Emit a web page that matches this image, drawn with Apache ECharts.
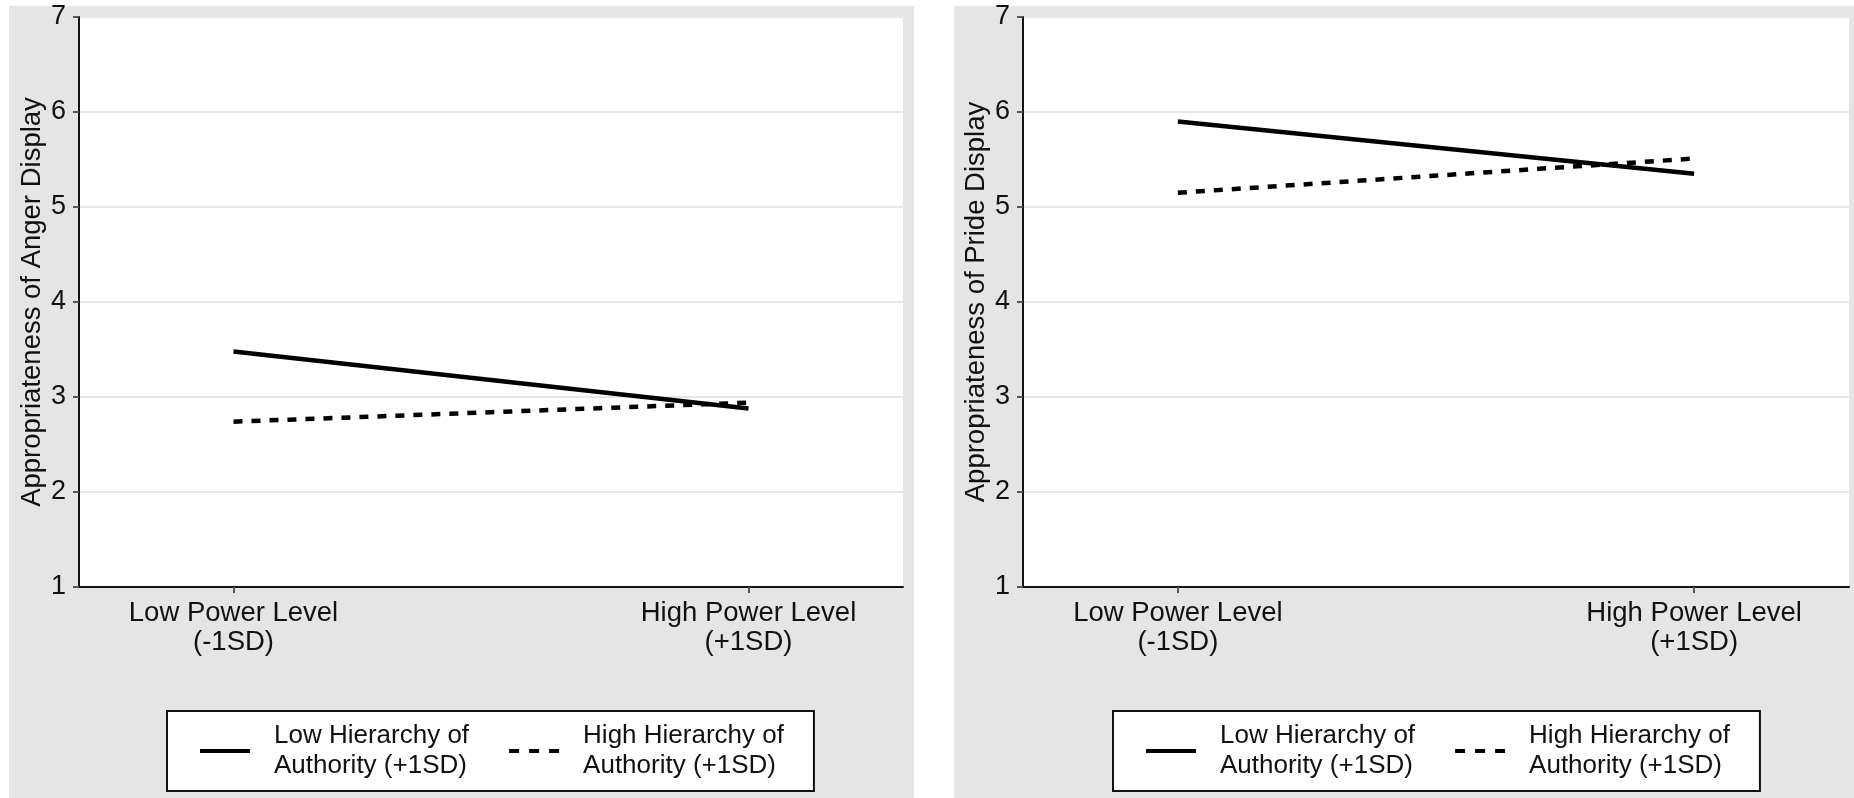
<!DOCTYPE html>
<html>
<head>
<meta charset="utf-8">
<script src="https://cdn.jsdelivr.net/npm/echarts@6/dist/echarts.min.js"></script>
<style>
  html, body { margin: 0; padding: 0; background: #fff; }
  #chart { width: 1854px; height: 798px; }
</style>
</head>
<body>
<div id="chart"></div>
<script>
const FONT = "'Liberation Sans', Arial, sans-serif"

// x positions of the two power levels (-1SD / +1SD)
const powerLevels = [-1, 1]
const powerLabels = ['Low Power Level\n(-1SD)', 'High Power Level\n(+1SD)']
const seriesNames = ['Low Hierarchy of\nAuthority (+1SD)', 'High Hierarchy of\nAuthority (+1SD)']

const angerLowHier = [3.48, 2.88]
const angerHighHier = [2.74, 2.94]
const prideLowHier = [5.90, 5.35]
const prideHighHier = [5.15, 5.51]

const yNames = ['Appropriateness of Anger Display', 'Appropriateness of Pride Display']

const grids = [
    { left: 79, top: 17, width: 824, height: 570 },
    { left: 1023, top: 17, width: 826, height: 570 },
]

// legend keys: a plain bar and three short dashes
const SOLID_ICON = 'rect'
const DASH_ICON = 'path://M0,0h10v4h-10z M20,0h10v4h-10z M40,0h10v4h-10z'

function pairs(values) {
    return powerLevels.map((x, i) => [x, values[i]])
}

function xAxisFor(gridIndex) {
    return {
        type: 'value', gridIndex, min: -1.6, max: 1.6,
        axisLine: { onZero: false, lineStyle: { color: '#111', width: 2 } },
        axisTick: { show: true, customValues: powerLevels, length: 6, lineStyle: { color: '#555', width: 2 } },
        axisLabel: {
            customValues: powerLevels,
            margin: 12,
            color: '#111', fontSize: 27.5, lineHeight: 29, fontFamily: FONT, align: 'center',
            formatter: (v) => powerLabels[powerLevels.indexOf(v)],
        },
        splitLine: { show: false },
    }
}

function yAxisFor(gridIndex) {
    return {
        type: 'value', gridIndex, min: 1, max: 7, interval: 1,
        name: yNames[gridIndex], nameLocation: 'middle', nameGap: 33,
        nameTextStyle: { color: '#111', fontSize: 27.5, fontFamily: FONT },
        axisLine: { show: true, onZero: false, lineStyle: { color: '#111', width: 2 } },
        axisTick: { show: true, length: 6, lineStyle: { color: '#555', width: 2 } },
        axisLabel: { margin: 13, color: '#111', fontSize: 27, fontFamily: FONT },
        splitLine: { show: true, lineStyle: { color: '#e6e6e6', width: 2 } },
    }
}

function lineSeries(name, values, gridIndex, dashed) {
    return {
        type: 'line', name,
        xAxisIndex: gridIndex, yAxisIndex: gridIndex,
        data: pairs(values),
        symbol: 'none', animation: false, silent: true,
        lineStyle: { color: '#000', width: 4.5, type: dashed ? [9, 9] : 'solid', cap: 'butt' },
        itemStyle: { color: '#000' },
    }
}

function legendFor(left) {
    return {
        left, top: 711,
        orient: 'horizontal',
        data: [
            { name: seriesNames[0], icon: SOLID_ICON },
            { name: seriesNames[1], icon: DASH_ICON },
        ],
        itemWidth: 50, itemHeight: 4, itemGap: 40,
        symbolKeepAspect: false,
        itemStyle: { color: '#000', borderWidth: 0 },
        padding: [10, 30, 10, 33],
        backgroundColor: '#fff',
        borderColor: '#111', borderWidth: 2, borderRadius: 0,
        selectedMode: false,
        textStyle: { color: '#111', fontSize: 26, lineHeight: 30, fontFamily: FONT, padding: [0, 0, 0, 19] },
    }
}

const chart = echarts.init(document.getElementById('chart'), null, { renderer: 'canvas' })

chart.setOption({
    backgroundColor: '#fff',
    animation: false,
    graphic: [
        { type: 'rect', z: -10, shape: { x: 9, y: 6, width: 905, height: 792 }, style: { fill: '#e5e5e5' } },
        { type: 'rect', z: -10, shape: { x: 954, y: 6, width: 900, height: 792 }, style: { fill: '#e5e5e5' } },
    ],
    grid: grids.map(g => ({ ...g, show: true, backgroundColor: '#fff', borderWidth: 0, containLabel: false })),
    xAxis: [xAxisFor(0), xAxisFor(1)],
    yAxis: [yAxisFor(0), yAxisFor(1)],
    legend: [legendFor(167), legendFor(1113)],
    series: [
        lineSeries(seriesNames[0], angerLowHier, 0, false),
        lineSeries(seriesNames[1], angerHighHier, 0, true),
        lineSeries(seriesNames[0], prideLowHier, 1, false),
        lineSeries(seriesNames[1], prideHighHier, 1, true),
    ],
})
</script>
</body>
</html>
